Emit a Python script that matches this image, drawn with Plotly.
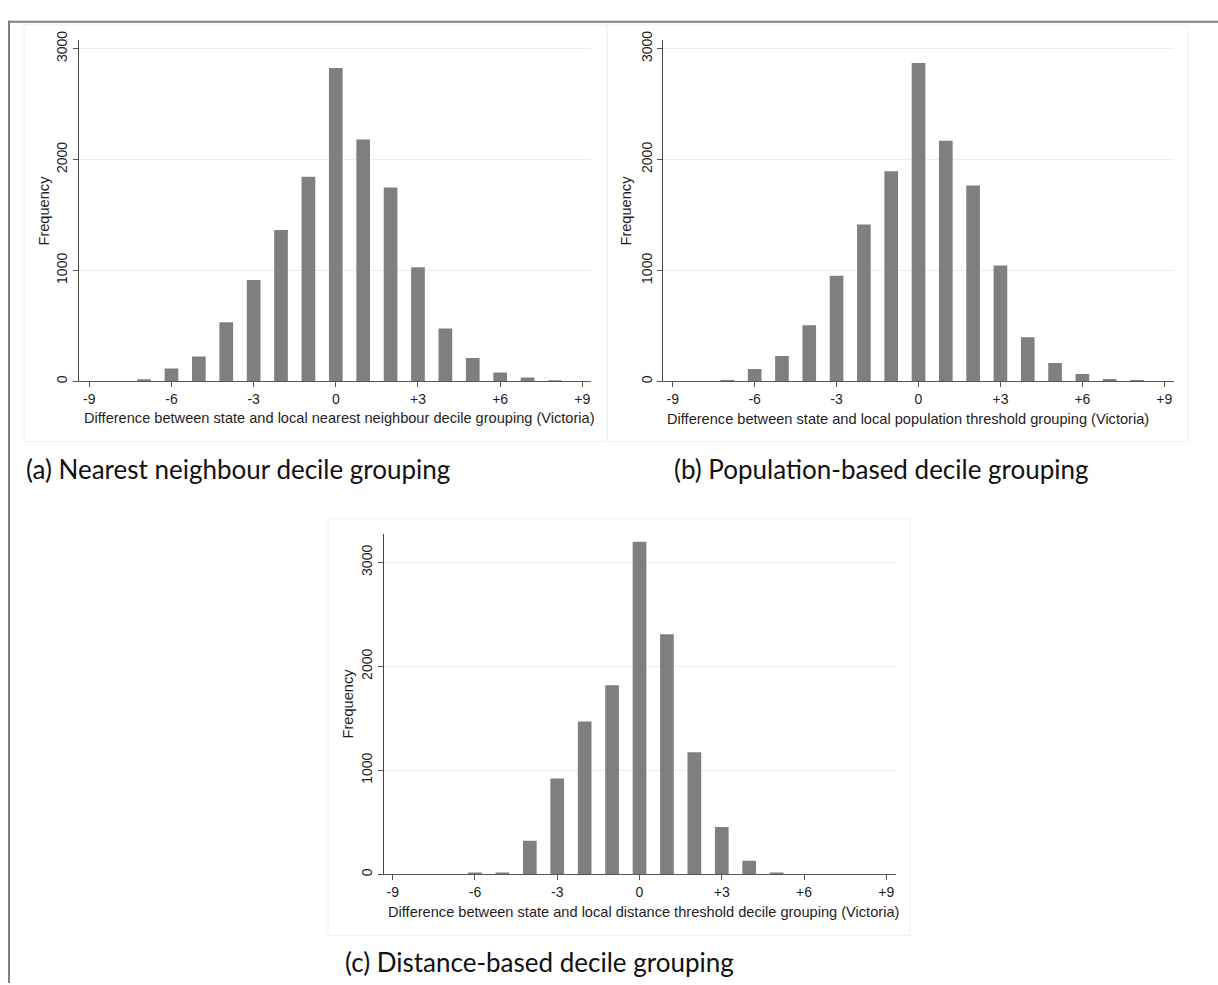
import plotly.graph_objects as go

# ---------------- data ----------------
diff = [-9, -8, -7, -6, -5, -4, -3, -2, -1, 0, 1, 2, 3, 4, 5, 6, 7, 8, 9]
freq_nearest = [0, 0, 20, 116, 225, 534, 914, 1365, 1845, 2825, 2181, 1748, 1030, 478, 211, 80, 36, 10, 0]
freq_population = [0, 0, 12, 113, 228, 507, 952, 1415, 1893, 2869, 2169, 1765, 1044, 398, 166, 68, 21, 12, 0]
freq_distance = [0, 0, 0, 12, 10, 323, 922, 1470, 1818, 3200, 2309, 1175, 456, 130, 10, 0, 0, 0, 0]

tick_vals = [-9, -6, -3, 0, 3, 6, 9]
tick_text = ["-9", "-6", "-3", "0", "+3", "+6", "+9"]
y_ticks = [0, 1000, 2000, 3000]

x_titles = [
    "Difference between state and local nearest neighbour decile grouping (Victoria)",
    "Difference between state and local population threshold grouping (Victoria)",
    "Difference between state and local distance threshold decile grouping (Victoria)",
]
captions = [
    "(a) Nearest neighbour decile grouping",
    "(b) Population-based decile grouping",
    "(c) Distance-based decile grouping",
]
y_title = "Frequency"

W, H = 1218, 985


def px(x):
    return x / W


def py(y):
    return 1 - y / H


# panel geometry (pixels): x domain, y domain (top, bottom), x range, y range
panels = [
    dict(xd=(79.0, 591.3), yd=(30.7, 376.0), xr=(-9.376, 9.328), yr=(0, 3074)),
    dict(xd=(663.1, 1173.5), yd=(30.7, 376.0), xr=(-9.352, 9.337), yr=(0, 3074)),
    dict(xd=(383.9, 895.9), yd=(530.0, 875.0), xr=(-9.321, 9.35), yr=(0, 3278)),
]
series = [freq_nearest, freq_population, freq_distance]

AX_FONT = "Liberation Sans, Arial, sans-serif"
TXT = "#1e1e1e"
fig = go.Figure()
layout = dict(
    width=W, height=H,
    margin=dict(l=0, r=0, t=0, b=0),
    paper_bgcolor="white", plot_bgcolor="white",
    showlegend=False,
    font=dict(family=AX_FONT, color=TXT),
)

for i, (p, vals) in enumerate(zip(panels, series)):
    suffix = "" if i == 0 else str(i + 1)
    fig.add_trace(go.Bar(
        x=diff, y=vals, width=0.5,
        marker=dict(color="#7f7f7f", line=dict(width=0)),
        xaxis="x" + suffix, yaxis="y" + suffix,
    ))
    layout["xaxis" + suffix] = dict(
        domain=[px(p["xd"][0]), px(p["xd"][1])],
        range=list(p["xr"]),
        anchor="y" + suffix,
        tickmode="array", tickvals=tick_vals, ticktext=tick_text,
        ticks="outside", ticklen=5, tickcolor="#555555", tickwidth=1,
        showline=True, linecolor="#555555", linewidth=1,
        showgrid=False, zeroline=False,
        tickfont=dict(size=14, family=AX_FONT, color=TXT),
        fixedrange=True,
    )
    layout["yaxis" + suffix] = dict(
        domain=[py(p["yd"][1]), py(p["yd"][0])],
        range=list(p["yr"]),
        anchor="x" + suffix,
        tickmode="array", tickvals=y_ticks,
        ticks="outside", ticklen=5, tickcolor="#555555", tickwidth=1,
        tickangle=-90,
        showline=True, linecolor="#444444", linewidth=1,
        showgrid=True, gridcolor="#e6eef0", gridwidth=1,
        zeroline=False,
        tickfont=dict(size=14, family=AX_FONT, color=TXT),
        fixedrange=True,
    )

annotations = []
# x titles
for (cx, cy), t in zip([(339, 413), (908.5, 414), (643.5, 913)], x_titles):
    annotations.append(dict(
        x=px(cx), y=py(cy), xref="paper", yref="paper", text=t, showarrow=False,
        xanchor="center", yanchor="middle",
        font=dict(family=AX_FONT, size=14.6, color=TXT),
    ))
# y titles
for (cx, cy) in [(44, 203), (626, 203), (348, 702)]:
    annotations.append(dict(
        x=px(cx), y=py(cy), xref="paper", yref="paper", text=y_title, showarrow=False,
        textangle=-90, xanchor="center", yanchor="middle",
        font=dict(family=AX_FONT, size=14.6, color=TXT),
    ))
# captions
for (lx, cy), t in zip([(24, 465), (672, 465), (343, 964)], captions):
    annotations.append(dict(
        x=px(lx), y=py(cy), xref="paper", yref="paper", text=t, showarrow=False,
        xanchor="left", yanchor="middle",
        font=dict(family="Lato, Carlito, sans-serif", size=26, color="#111111"),
    ))
layout["annotations"] = annotations

shapes = []
# faint panel frames
for (x0, y0, x1, y1) in [(24, 15, 607, 437), (607, 15, 1188, 437), (328, 515, 910, 937)]:
    shapes.append(dict(type="rect", xref="paper", yref="paper",
                       x0=px(x0), x1=px(x1), y0=py(y1), y1=py(y0),
                       line=dict(color="#edf2f2", width=1), fillcolor="rgba(0,0,0,0)"))
# outer table border (top and left)
shapes.append(dict(type="line", xref="paper", yref="paper",
                   x0=px(8), x1=px(1218), y0=py(12), y1=py(12),
                   line=dict(color="#808080", width=2)))
shapes.append(dict(type="line", xref="paper", yref="paper",
                   x0=px(9), x1=px(9), y0=py(11), y1=py(985),
                   line=dict(color="#808080", width=2)))
layout["shapes"] = shapes

fig.update_layout(**layout)
fig.write_html(
    "out.html",
    config={"displayModeBar": False},
    post_script="document.body.style.margin='0px';document.body.style.overflow='hidden';",
)
